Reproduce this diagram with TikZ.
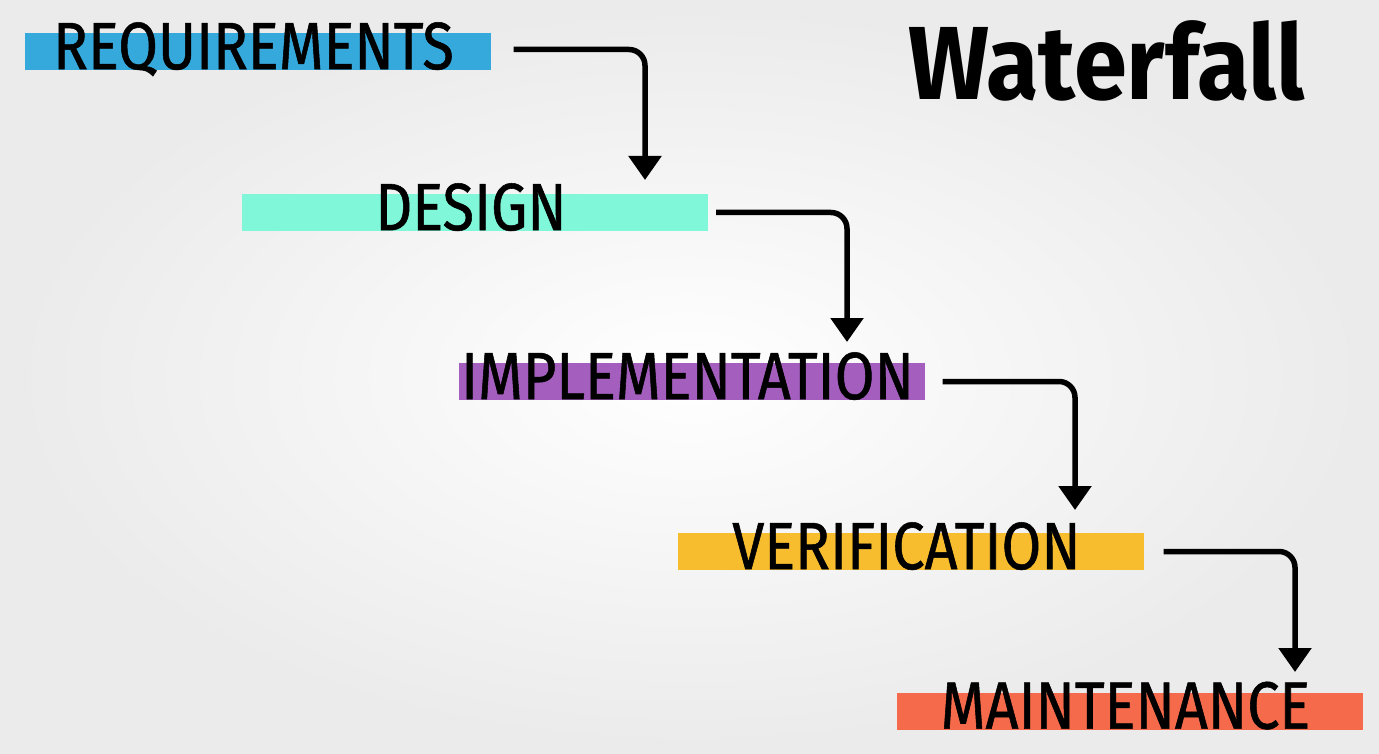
\documentclass[tikz,border=0pt]{standalone}
\usepackage{fontspec}
\setmainfont{Fira Sans}
\newfontfamily\barfont[FakeStretch=0.86,FakeBold=0.8]{Fira Sans}
\newfontfamily\titlefont[FakeStretch=0.92]{Fira Sans}
\usetikzlibrary{positioning,arrows.meta}
\definecolor{reqblue}{HTML}{35A9DC}
\definecolor{desgreen}{HTML}{7FF7D8}
\definecolor{imppurple}{HTML}{A45FBE}
\definecolor{veryellow}{HTML}{F8BD2F}
\definecolor{mainred}{HTML}{F46A4B}

\begin{document}
\begin{tikzpicture}[x=1pt,y=-1pt,bar/.style={minimum width=466pt,minimum height=37pt,inner sep=0pt},phase/.style={anchor=base,inner sep=0pt,font=\barfont\fontsize{67}{67}\selectfont},flow/.style={-{Triangle[width=32pt,length=24pt]},line width=5.5pt,rounded corners=16pt}]
\shade[inner color=white,outer color=gray!16] (0,0) rectangle (1379,754);
\node[anchor=base west,inner sep=0pt,font=\titlefont\bfseries\fontsize{104}{104}\selectfont] (title) at (908,100) {Waterfall};
\node[bar,fill=reqblue] (req) at (257.5,51.5) {};
\node[bar,fill=desgreen] (des) at (475,212.5) {};
\node[bar,fill=imppurple] (imp) at (691.5,381.5) {};
\node[bar,fill=veryellow] (ver) at (910.5,551.5) {};
\node[bar,fill=mainred] (mai) at (1129.5,711) {};
\node[phase] (reqt) at ([xshift=-4pt,yshift=1pt]req.south) {REQUIREMENTS};
\node[phase] (dest) at ([xshift=-4pt,yshift=1pt]des.south) {DESIGN};
\node[phase] (impt) at ([xshift=-4pt,yshift=1pt]imp.south) {IMPLEMENTATION};
\node[phase] (vert) at ([xshift=-4pt,yshift=1pt]ver.south) {VERIFICATION};
\node[phase] (mait) at ([xshift=-4pt,yshift=1pt]mai.south) {MAINTENANCE};
\coordinate (t1) at (645,180);
\coordinate (t2) at (847,342);
\coordinate (t3) at (1075,510);
\coordinate (t4) at (1295,672);
\draw[flow] ([xshift=23pt,yshift=2pt]req.east) -| (t1);
\draw[flow] ([xshift=8pt]des.east) -| (t2);
\draw[flow] ([xshift=18pt]imp.east) -| (t3);
\draw[flow] ([xshift=20pt]ver.east) -| (t4);
\end{tikzpicture}
\end{document}
